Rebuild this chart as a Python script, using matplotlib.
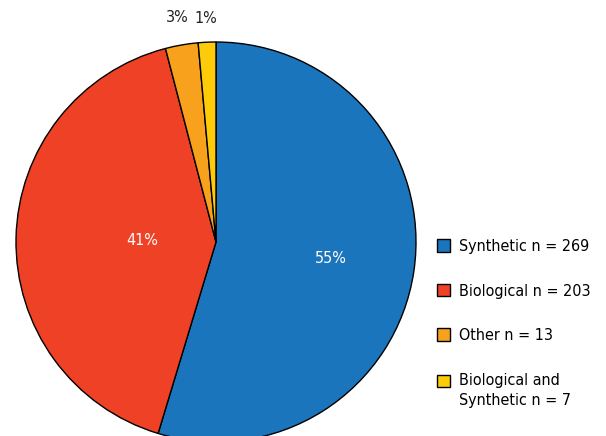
import matplotlib.pyplot as plt
import numpy as np

labels = ['Synthetic n = 269', 'Biological n = 203', 'Other n = 13', 'Biological and\nSynthetic n = 7']
counts = [269, 203, 13, 7]
colors = ['#1b75bc', '#ef4125', '#f7a11c', '#fecb0a']
pct_dist = [0.58, 0.37, 1.14, 1.12]

plt.rcParams['font.family'] = ['DejaVu Sans']
plt.rcParams['font.stretch'] = 'condensed'

fig = plt.figure(figsize=(6.06, 4.36), dpi=100)
ax = fig.add_axes([16 / 606, -6 / 436, 400 / 606, 400 / 436])

wedges, texts, autotexts = ax.pie(counts, colors=colors, startangle=90, counterclock=False,
                                  autopct='%1.0f%%', radius=1.0,
                                  wedgeprops=dict(edgecolor='black', linewidth=1.0),
                                  textprops=dict(fontsize=11.5))
for w, t, d in zip(wedges, autotexts, pct_dist):
    ang = np.deg2rad((w.theta1 + w.theta2) / 2)
    t.set_position((d * np.cos(ang), d * np.sin(ang)))
    t.set_color('white' if d < 1 else '#222222')
ax.set_xlim(-1, 1)
ax.set_ylim(-1, 1)
ax.set_aspect('equal')
ax.axis('off')

leg = fig.legend(wedges, labels, loc='upper left', bbox_to_anchor=(429 / 606, 1 - 231 / 436),
                 frameon=False, fontsize=11.5, handlelength=0.8, handleheight=0.8,
                 handletextpad=0.6, labelspacing=1.85, borderpad=0)
for t in leg.get_texts():
    t.set_linespacing(1.45)
# the last swatch sits on the first line of its two-line label
last = leg.legend_handles[-1]
last.set_y(last.get_y() + 7.2)

fig.savefig('out.png', dpi=100)
